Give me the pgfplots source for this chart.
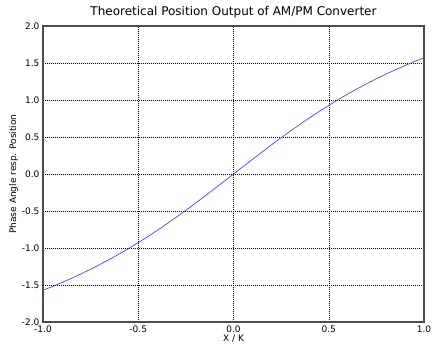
\documentclass[border=0pt]{standalone}
\usepackage{fontspec}
\setmainfont{DejaVu Sans}
\usepackage{pgfplots}
\pgfplotsset{compat=1.18}
\begin{document}
\begin{tikzpicture}
\path[use as bounding box] (-43pt,-26pt) rectangle (391pt,322pt);
\begin{axis}[
  scale only axis, width=381pt, height=296pt,
  at={(0,0)}, anchor=south west,
  xmin=-1, xmax=1, ymin=-2, ymax=2,
  xtick distance=0.5, ytick distance=0.5,
  /pgf/number format/assume math mode=true,
  /pgf/number format/fixed, /pgf/number format/fixed zerofill, /pgf/number format/precision=1,
  ticklabel style={font=\fontsize{9}{10}\selectfont},
  major tick length=0pt,
  grid=major, grid style={black, line width=0.5pt, dash pattern=on 0.5pt off 1.5pt},
  axis line style={black!70, line width=1.1pt},
  title={Theoretical Position Output of AM/PM Converter},
  title style={font=\fontsize{12}{14}\selectfont, yshift=-2pt},
  xlabel={X / K}, ylabel={Phase Angle resp. Position},
  label style={font=\fontsize{9}{10}\selectfont},
  xlabel style={yshift=4pt},
  ylabel style={yshift=-3pt},
]
\addplot[color={rgb,255:red,70;green,70;blue,255}, line width=0.7pt, no marks] coordinates {
(-1.00,-1.570796) (-0.95,-1.519526) (-0.90,-1.465630) (-0.85,-1.408988)
(-0.80,-1.349482) (-0.75,-1.287002) (-0.70,-1.221452) (-0.65,-1.152750)
(-0.60,-1.080839) (-0.55,-1.005686) (-0.50,-0.927295) (-0.45,-0.845708)
(-0.40,-0.761013) (-0.35,-0.673350) (-0.30,-0.582913) (-0.25,-0.489957)
(-0.20,-0.394791) (-0.15,-0.297781) (-0.10,-0.199337) (-0.05,-0.099917)
(0.00,0.000000)
(0.05,0.099917) (0.10,0.199337) (0.15,0.297781) (0.20,0.394791)
(0.25,0.489957) (0.30,0.582913) (0.35,0.673350) (0.40,0.761013)
(0.45,0.845708) (0.50,0.927295) (0.55,1.005686) (0.60,1.080839)
(0.65,1.152750) (0.70,1.221452) (0.75,1.287002) (0.80,1.349482)
(0.85,1.408988) (0.90,1.465630) (0.95,1.519526) (1.00,1.570796)
};
\end{axis}
\end{tikzpicture}
\end{document}
